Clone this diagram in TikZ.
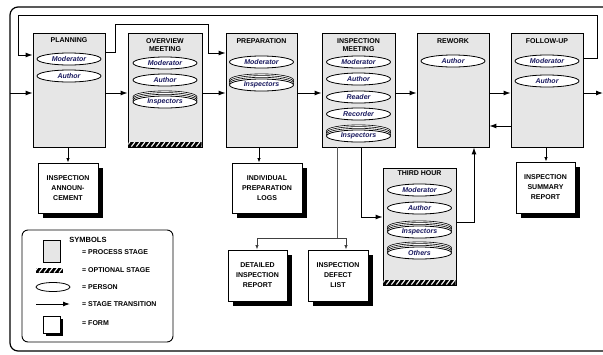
\documentclass[tikz,border=0pt]{standalone}
\usepackage{fontspec}
\setmainfont{Liberation Sans}
\usetikzlibrary{arrows.meta,shadows,shapes.geometric,calc}
\definecolor{pers}{RGB}{25,25,95}
\definecolor{stip}{RGB}{230,230,230}
\newcommand\txtsz{\fontsize{7}{8.5}\selectfont}
\newcommand\hatchstrip[4]{%
  \begin{scope}
    \clip (#1,#2) rectangle (#3,#4);
    \fill[black] (#1,#2) rectangle (#3,#4);
    \foreach \k in {0,...,16} \draw[white, line width=1.1pt] ({#1+\k*5-2},#4) -- ({#1+\k*5+1.5},#2);
  \end{scope}}
\newcommand\stackp[4]{%
  \foreach \d in {5.1,3.4,1.7} \draw[line width=0.6pt, fill=white] (#2,#3-\d) ellipse (32pt and 6pt);
  \node[person] (#1) at (#2,#3) {#4};}
\tikzset{
  stagebox/.style={draw, line width=0.8pt, fill=stip, minimum width=72pt, minimum height=114pt, inner sep=0pt},
  title/.style={font=\bfseries\txtsz, align=center, inner sep=0pt},
  person/.style={draw, ellipse, line width=0.8pt, fill=white, minimum width=64pt, minimum height=12pt, inner sep=0pt, font=\bfseries\itshape\txtsz, text=pers},
  formbox/.style={draw, line width=0.9pt, fill=white, drop shadow={shadow xshift=4.5pt, shadow yshift=-4.5pt, fill=black, opacity=1}, font=\bfseries\fontsize{7}{10}\selectfont, align=center, inner sep=0pt, minimum width=60pt, minimum height=50pt},
  arr/.style={line width=1pt, -{Latex[length=7pt,width=5pt]}},
  sarr/.style={line width=0.8pt, -{Latex[length=4.5pt,width=3.5pt]}},
  ln/.style={line width=1pt},
  legtext/.style={font=\bfseries\txtsz, anchor=west, inner sep=0pt},
}
\begin{document}
\begin{tikzpicture}[x=1pt,y=-1pt]
\useasboundingbox (0,0) rectangle (603,354);
% outer frame
\draw[line width=1.2pt, rounded corners=8pt] (10,7) rectangle (640,351);

% stages
\node[stagebox] (plan) at (69,90) {};
\node[stagebox, minimum width=74pt] (over) at (165,90) {};
\node[stagebox, minimum width=71pt] (prep) at (261.5,90) {};
\node[stagebox, minimum width=73pt] (meet) at (358.5,90) {};
\node[stagebox] (rework) at (453,90) {};
\node[stagebox] (follow) at (547,90) {};
\node[stagebox, minimum width=73pt, minimum height=117pt] (third) at (419.5,226.5) {};
\hatchstrip{128.4}{142}{201.6}{146.6}
\hatchstrip{383.4}{280}{455.6}{284.6}

% titles
\node[title] (tplan) at (69,40) {PLANNING};
\node[title] (tover) at (165,45) {OVERVIEW\\MEETING};
\node[title] (tprep) at (261.5,41) {PREPARATION};
\node[title] (tmeet) at (358.5,45) {INSPECTION\\MEETING};
\node[title] (trew) at (453,41) {REWORK};
\node[title] (tfol) at (547,41) {FOLLOW-UP};
\node[title] (tthird) at (419.5,173) {THIRD HOUR};

% persons
\node[person] (p1) at (69,59) {Moderator};
\node[person] (p2) at (69,76) {Author};
\node[person] (o1) at (165,63) {Moderator};
\node[person] (o2) at (165,80) {Author};
\stackp{o3}{165}{102}{Inspectors}
\node[person] (r1) at (261.5,62) {Moderator};
\stackp{r2}{261.5}{85}{Inspectors}
\node[person] (m1) at (358.5,62) {Moderator};
\node[person] (m2) at (358.5,79) {Author};
\node[person] (m3) at (358.5,97) {Reader};
\node[person] (m4) at (358.5,114) {Recorder};
\stackp{m5}{358.5}{136}{Inspectors}
\node[person] (w1) at (453,61) {Author};
\node[person] (f1) at (547,61) {Moderator};
\node[person] (f2) at (547,81) {Author};
\node[person] (t1) at (419.5,190) {Moderator};
\node[person] (t2) at (419.5,208) {Author};
\stackp{t3}{419.5}{232}{Inspectors}
\stackp{t4}{419.5}{253}{Others}

% forms
\node[formbox] (ann) at (68,188) {INSPECTION\\ANNOUN-\\CEMENT};
\node[formbox, minimum width=70pt] (logs) at (267,188) {INDIVIDUAL\\PREPARATION\\LOGS};
\node[formbox, minimum width=59pt, minimum height=51pt] (det) at (257.5,275.5) {DETAILED\\INSPECTION\\REPORT};
\node[formbox, minimum height=51pt] (defect) at (338,275.5) {INSPECTION\\DEFECT\\LIST};
\node[formbox, minimum width=59pt, minimum height=51pt] (summ) at (545.5,187.5) {INSPECTION\\SUMMARY\\REPORT};

% helper coordinates
\coordinate (ya) at (0,93);
\coordinate (yb) at (0,126);
\coordinate (src) at (10,93);
\coordinate (outp) at (603,93);

% main flow
\draw[arr] (src) -- (plan.west |- ya);
\draw[arr] (plan.east |- ya) -- (over.west |- ya);
\draw[arr] (over.east |- ya) -- (prep.west |- ya);
\draw[arr] (prep.east |- ya) -- (meet.west |- ya);
\draw[arr] (meet.east |- ya) -- (rework.west |- ya);
\draw[arr] (rework.east |- ya) -- (follow.west |- ya);
\draw[arr] (follow.east |- ya) -- (outp);
\draw[arr] (follow.west |- yb) -- (rework.east |- yb);

% loops
\draw[arr] (follow.east |- 0,58) -- (597,58) -- (597,15) -- (18,15) -- (18,55) -- (plan.west |- 0,55);
\draw[arr] (plan.east |- 0,52) -- (115,52) -- (115,24) -- (208,24) -- (208,53) -- (prep.west |- 0,53);
\draw[arr] (meet.south -| 361,0) -- (361,217) -- (third.west |- 0,217);
\draw[arr] (third.east |- 0,222) -- (474,222) -- (rework.south -| 474,0);

% forms links
\draw[sarr] (plan.south -| 68,0) -- (ann.north -| 68,0);
\draw[sarr] (prep.south -| 259,0) -- (logs.north -| 259,0);
\draw[sarr] (follow.south -| 546,0) -- (summ.north -| 546,0);
\draw[line width=0.9pt, black!65] (meet.south -| 337,0) -- (337,238);
\draw[line width=0.9pt, black!75] (257,238) -- (346,238);
\draw[sarr, black!75] (257,238) -- (det.north -| 257,0);
\draw[sarr, black!75] (346,238) -- (defect.north -| 346,0);

% legend
\node[draw, line width=0.9pt, rounded corners=6pt, minimum width=151pt, minimum height=112pt, inner sep=0pt] (legend) at (97.5,286) {};
\node[title, font=\bfseries\fontsize{7.5}{9}\selectfont] (lsym) at (88,239.5) {SYMBOLS};
\node[draw, line width=0.8pt, fill=stip, minimum width=17pt, minimum height=22pt, inner sep=0pt] (lproc) at (51.5,251) {};
\hatchstrip{36}{268}{63}{272.5}
\node[draw, ellipse, line width=0.8pt, minimum width=34pt, minimum height=9pt, inner sep=0pt] (lpers) at (53,287) {};
\coordinate (la) at (36,304);
\coordinate (lb) at (70,304);
\draw[arr] (la) -- (lb);
\node[draw, line width=0.9pt, fill=white, minimum width=17pt, minimum height=17pt, inner sep=0pt, drop shadow={shadow xshift=2.5pt, shadow yshift=-2.5pt, fill=black, opacity=1}] (lform) at (51.5,324.5) {};
\node[legtext] (t1l) at (82,252) {= PROCESS STAGE};
\node[legtext] (t2l) at (82,270) {= OPTIONAL STAGE};
\node[legtext] (t3l) at (82,287) {= PERSON};
\node[legtext] (t4l) at (82,304) {= STAGE TRANSITION};
\node[legtext] (t5l) at (82,323) {= FORM};
\end{tikzpicture}
\end{document}
